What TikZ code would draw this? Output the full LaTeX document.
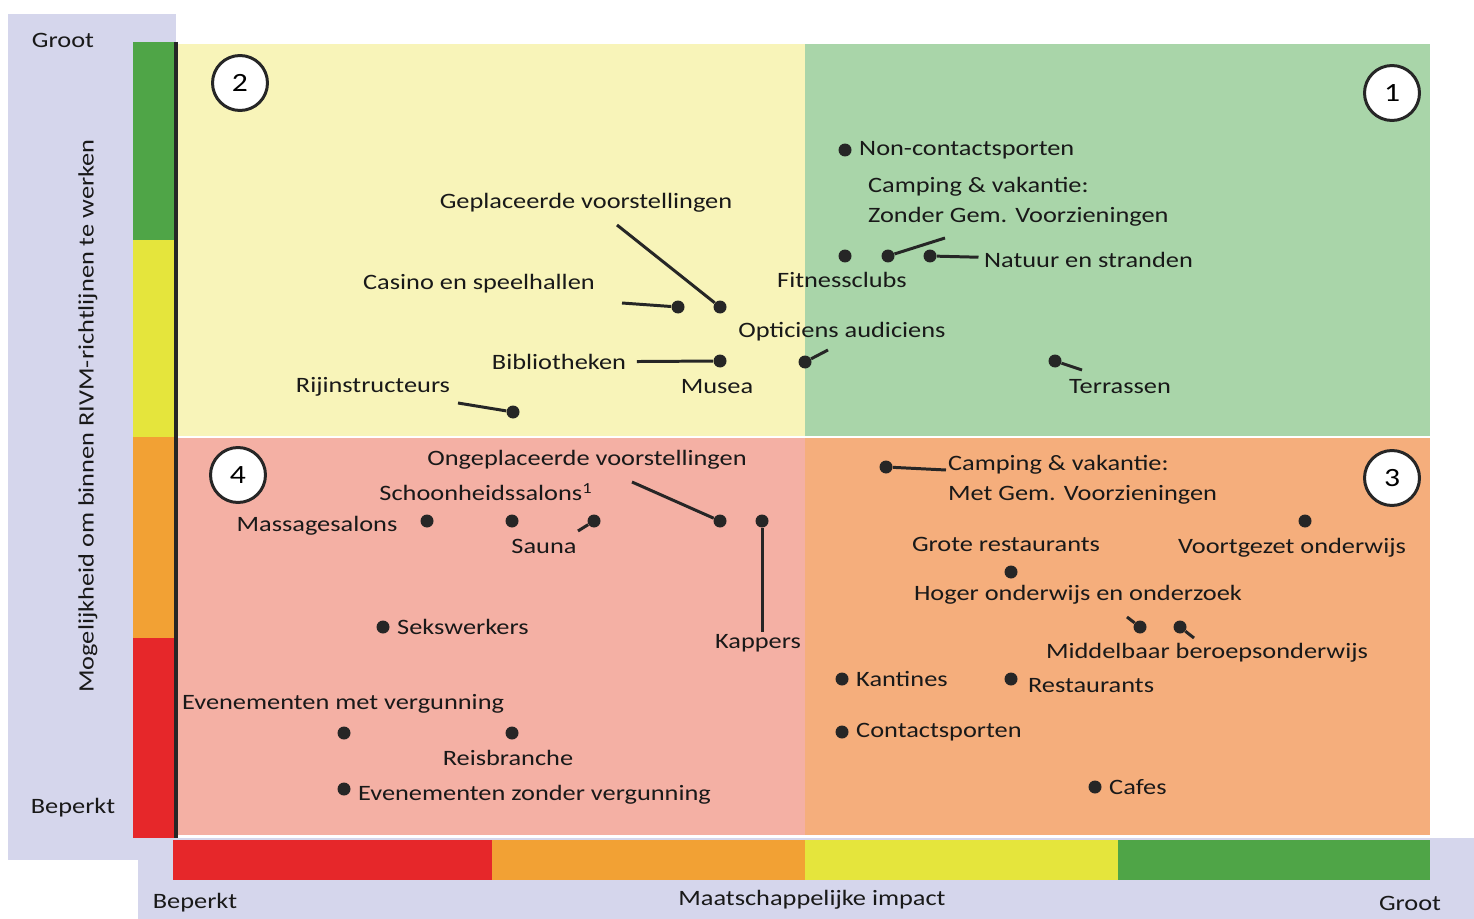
\documentclass[tikz,border=0pt]{standalone}
\usepackage{fontspec}
\setmainfont{Carlito}[FakeStretch=1.2]
\usetikzlibrary{positioning}
\definecolor{panelblue}{HTML}{D5D6EC}
\definecolor{qyellow}{HTML}{F8F4B9}
\definecolor{qgreen}{HTML}{A9D5A9}
\definecolor{qpink}{HTML}{F4B0A4}
\definecolor{qorange}{HTML}{F5AE7C}
\definecolor{barred}{HTML}{E6272A}
\definecolor{barorange}{HTML}{F2A134}
\definecolor{baryellow}{HTML}{E5E53C}
\definecolor{bargreen}{HTML}{4FA547}

\begin{document}
\begin{tikzpicture}[x=0.02cm,y=-0.02cm,
  dot/.style={circle,fill=black!85,inner sep=0pt,minimum size=0.26cm},
  lbl/.style={inner sep=1pt,text=black!90,font=\fontsize{12.5}{17}\selectfont},
  twoline/.style={lbl,align=left},
  numcirc/.style={circle,draw=black!85,line width=1.7pt,fill=white,minimum size=1.1cm,inner sep=0pt,font=\fontsize{15}{15}\selectfont},
  lead/.style={line width=1.7pt,black!85}]
\useasboundingbox (0,0) rectangle (1474,919);
% panels and quadrants
\fill[panelblue] (8,14) rectangle (176,860);
\fill[panelblue] (138,838) rectangle (1474,919);
\fill[qyellow] (178,44) rectangle (805,437);
\fill[qgreen] (805,44) rectangle (1430,437);
\fill[qpink] (178,437) rectangle (805,835);
\fill[qorange] (805,437) rectangle (1430,835);
\draw[white,line width=1.2pt] (178,437) -- (1430,437);
% colour scales
\foreach \c/\a/\b in {bargreen/42/240, baryellow/240/437, barorange/437/638, barred/638/838}
  \fill[\c] (133,\a) rectangle (176,\b);
\foreach \c/\a/\b in {barred/173/492, barorange/492/805, baryellow/805/1118, bargreen/1118/1430}
  \fill[\c] (\a,840) rectangle (\b,880);
\draw[line width=1.8pt,black!85] (176,42) -- (176,838);
% axis texts
\node[lbl] (ygroot) at (63,40) {Groot};
\node[lbl] (ybeperkt) at (73,808) {Beperkt};
\node[lbl,rotate=90] (ytitle) at (88,416) {Mogelijkheid om binnen RIVM-richtlijnen te werken};
\node[lbl] (xbeperkt) at (195,903) {Beperkt};
\node[lbl] (xtitle) at (812,900) {Maatschappelijke impact};
\node[lbl] (xgroot) at (1410,903) {Groot};
% quadrant numbers
\node[numcirc] (n1) at (1392,93) {1};
\node[numcirc] (n2) at (240,83) {2};
\node[numcirc] (n3) at (1392,478) {3};
\node[numcirc] (n4) at (238,475) {4};

% quadrant 1
\node[dot] (d-noncontact) at (845,150) {};
\node[lbl,right=3pt of d-noncontact] (l-noncontact) {Non-contactsporten};
\node[twoline,anchor=west] (l-campzonder) at (866,202) {Camping \& vakantie:\\Zonder Gem. Voorzieningen};
\node[dot] (d-fitness) at (845,256) {};
\node[dot] (d-campzonder) at (888,256) {};
\node[dot] (d-natuur) at (930,256) {};
\node[lbl] (l-fitness) at (842,280) {Fitnessclubs};
\node[lbl,anchor=west] (l-natuur) at (982,260) {Natuur en stranden};
\coordinate (c-campzonder) at (945,238);
\draw[lead] (d-campzonder) -- (c-campzonder);
\draw[lead,shorten >=2pt] (d-natuur) -- (l-natuur);
\node[lbl] (l-optic) at (842,332) {Opticiens audiciens};
\node[dot] (d-optic) at (805,362) {};
\coordinate (c-optic) at (828,350);
\draw[lead] (d-optic) -- (c-optic);
\node[dot] (d-terras) at (1055,361) {};
\node[lbl] (l-terras) at (1120,387) {Terrassen};
\coordinate (c-terras) at (1082,370);
\draw[lead] (d-terras) -- (c-terras);

% quadrant 2
\node[lbl] (l-geplaatst) at (586,203) {Geplaceerde voorstellingen};
\node[dot] (d-geplaatst) at (720,307) {};
\coordinate (c-geplaatst) at (617,225);
\draw[lead] (d-geplaatst) -- (c-geplaatst);
\node[lbl] (l-casino) at (479,284) {Casino en speelhallen};
\node[dot] (d-casino) at (678,307) {};
\coordinate (c-casino) at (622,303);
\draw[lead] (d-casino) -- (c-casino);
\node[lbl] (l-biblio) at (559,362) {Bibliotheken};
\node[dot] (d-biblio) at (720,361) {};
\draw[lead,shorten >=5pt] (d-biblio) -- (l-biblio);
\node[lbl] (l-musea) at (717,387) {Musea};
\node[lbl] (l-rij) at (373,387) {Rijinstructeurs};
\node[dot] (d-rij) at (513,412) {};
\coordinate (c-rij) at (458,403);
\draw[lead] (d-rij) -- (c-rij);

% quadrant 4
\node[lbl] (l-ongeplaatst) at (587,460) {Ongeplaceerde voorstellingen};
\node[dot] (d-ongeplaatst) at (720,521) {};
\coordinate (c-ongeplaatst) at (632,482);
\draw[lead] (d-ongeplaatst) -- (c-ongeplaatst);
\node[lbl] (l-schoonheid) at (486,492) {Schoonheidssalons\textsuperscript{1}};
\node[dot] (d-schoonheid) at (594,521) {};
\coordinate (c-schoonheid) at (578,531);
\draw[lead] (d-schoonheid) -- (c-schoonheid);
\node[lbl] (l-massage) at (317,526) {Massagesalons};
\node[dot] (d-massage) at (427,521) {};
\node[dot] (d-sauna) at (512,521) {};
\node[lbl] (l-sauna) at (544,546) {Sauna};
\node[dot] (d-kappers) at (762,521) {};
\node[lbl] (l-kappers) at (758,643) {Kappers};
\draw[lead] (d-kappers) -- (d-kappers |- l-kappers.north);
\node[dot] (d-seks) at (383,627) {};
\node[lbl,right=3pt of d-seks] (l-seks) {Sekswerkers};
\node[lbl,anchor=west] (l-evmet) at (180,704) {Evenementen met vergunning};
\node[dot] (d-evmet) at (344,733) {};
\node[dot] (d-reis) at (512,733) {};
\node[lbl] (l-reis) at (508,758) {Reisbranche};
\node[dot] (d-evzonder) at (344,789) {};
\node[lbl,anchor=west] (l-evzonder) at (356,795) {Evenementen zonder vergunning};

% quadrant 3
\node[dot] (d-campmet) at (886,467) {};
\node[twoline,anchor=west] (l-campmet) at (946,480) {Camping \& vakantie:\\Met Gem. Voorzieningen};
\coordinate (c-campmet) at (946,470);
\draw[lead] (d-campmet) -- (c-campmet);
\node[lbl] (l-groteres) at (1006,544) {Grote restaurants};
\node[dot] (d-groteres) at (1011,572) {};
\node[dot] (d-voortgezet) at (1305,521) {};
\node[lbl] (l-voortgezet) at (1292,548) {Voortgezet onderwijs};
\node[lbl] (l-hoger) at (1078,595) {Hoger onderwijs en onderzoek};
\node[dot] (d-hoger) at (1140,627) {};
\node[dot] (d-mbo) at (1180,627) {};
\coordinate (c-hoger) at (1127,617);
\coordinate (c-mbo) at (1194,638);
\draw[lead] (d-hoger) -- (c-hoger);
\draw[lead] (d-mbo) -- (c-mbo);
\node[lbl] (l-mbo) at (1207,653) {Middelbaar beroepsonderwijs};
\node[dot] (d-kantine) at (842,679) {};
\node[lbl,right=3pt of d-kantine] (l-kantine) {Kantines};
\node[dot] (d-rest) at (1011,679) {};
\node[lbl,anchor=west] (l-rest) at (1026,686) {Restaurants};
\node[dot] (d-contact) at (842,732) {};
\node[lbl,right=3pt of d-contact] (l-contact) {Contactsporten};
\node[dot] (d-cafe) at (1095,787) {};
\node[lbl,right=3pt of d-cafe] (l-cafe) {Cafes};
\end{tikzpicture}
\end{document}
